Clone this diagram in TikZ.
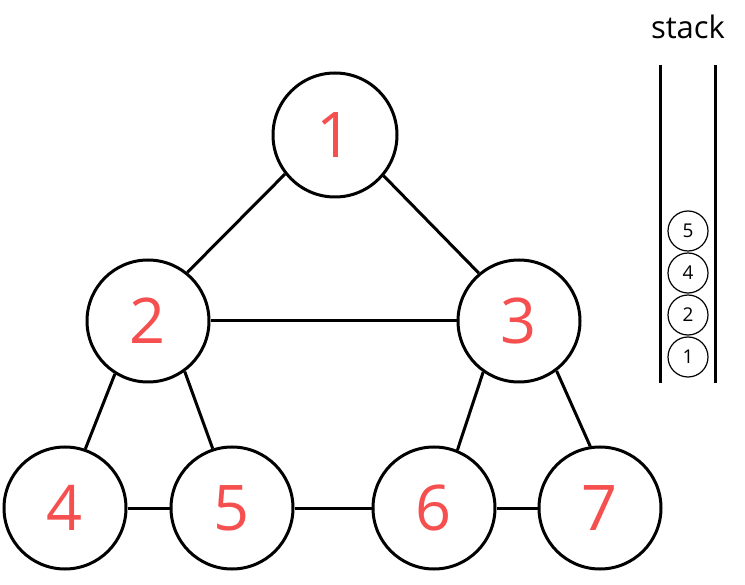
\documentclass[tikz,border=0pt]{standalone}
\usepackage{fontspec}
\setmainfont{Open Sans}
\usepackage{tikz}
\usetikzlibrary{automata,positioning}
\definecolor{numred}{HTML}{F5504F}

\begin{document}
\begin{tikzpicture}[x=1pt, y=-1pt, line width=3pt,
  every state/.style={draw, circle, line width=3pt, minimum size=122pt, inner sep=0pt, text=numred, font=\fontsize{63}{63}\selectfont},
  small/.style={draw, circle, line width=1.2pt, minimum size=40pt, inner sep=0pt, font=\fontsize{19}{19}\selectfont}]
\path[use as bounding box] (0,0) rectangle (745,585);
\node[state, minimum size=124pt] (N1) at (335,135) {1};
\node[state] (N2) at (148,321) {2};
\node[state] (N3) at (519,321) {3};
\node[state] (N4) at (65,508) {4};
\node[state] (N5) at (232,508) {5};
\node[state] (N6) at (434,508) {6};
\node[state] (N7) at (600,508) {7};
\path (N1.218) edge (N2.51);
\path (N1.-40) edge (N3.130);
\path (N2) edge (N3);
\path (N2.-122) edge (N4.71);
\path (N2.-54) edge (N5.108);
\path (N3.-125) edge (N6.68);
\path (N3.-53) edge (N7.99);
\path (N4) edge (N5);
\path (N5) edge (N6);
\path (N6) edge (N7);
% stack
\node[font=\fontsize{31}{31}\selectfont] (title) at (688,27) {stack};
\coordinate (lt) at (660,65);
\coordinate (lb) at (660,383);
\coordinate (rt) at (715,65);
\coordinate (rb) at (715,383);
\draw (lt) -- (lb);
\draw (rt) -- (rb);
\node[small] (S1) at (688,357) {1};
\node[small] (S2) at (688,315) {2};
\node[small] (S4) at (688,273) {4};
\node[small] (S5) at (688,231) {5};
\end{tikzpicture}
\end{document}
